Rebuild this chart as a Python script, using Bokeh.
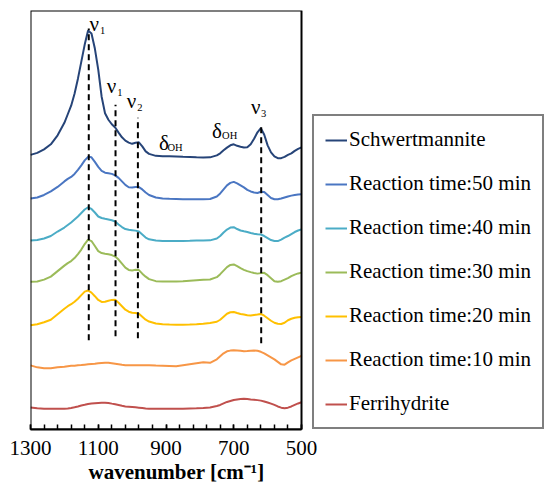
from bokeh.plotting import figure
from bokeh.models import Range1d, FixedTicker, Legend, LegendItem, ColumnDataSource, BoxAnnotation, Title
from bokeh.core.properties import value
from bokeh.embed import file_html
from bokeh.resources import INLINE

# wavenumber grid (cm-1)
wavenumber = [1300, 1280, 1260, 1240, 1220, 1200, 1190, 1180, 1170, 1160, 1150, 1140, 1130, 1120,
              1110, 1100, 1090, 1080, 1070, 1060, 1050, 1040, 1030, 1020, 1010, 1000, 990, 980,
              970, 960, 950, 930, 910, 890, 870, 850, 830, 810, 790, 770, 750, 740, 730, 720,
              710, 700, 690, 680, 670, 660, 650, 640, 630, 620, 610, 600, 590, 580, 570, 560,
              550, 540, 530, 520, 510, 500]

# stacked intensities (a.u.)
schwertmannite = [274, 276, 279.5, 284.5, 293.5, 306, 314.5, 323, 335, 350, 367, 384, 398, 395,
                  380, 359, 332, 315.5, 309, 304.5, 301.3, 296.2, 291.5, 288.2, 286.2, 285, 286, 286.5,
                  282.5, 277.5, 275, 273, 272.7, 272.5, 272.3, 272, 271.8, 271.5, 271.3, 271.5, 273.5, 275.5, 278.5, 281.2,
                  283.5, 284.5, 283, 282, 281.3, 281.5, 284.5, 290, 296.5, 300.7, 294, 283.5, 276.5, 272.5, 270.7, 270.7,
                  272, 274, 275.5, 278, 280, 281.5]
rt50 = [230.5, 231.5, 234, 237.5, 242, 247.5, 250, 252, 255, 259, 263.5, 268.5, 272, 271.5,
        267, 262, 258, 256.2, 255.7, 255, 253.5, 251, 247.5, 244, 241.7, 241.4, 242, 241.8,
        239.5, 236.5, 234, 231.5, 230.5, 230.2, 230, 229.8, 229.7, 229.7, 229.7, 230, 232.5, 235.5, 239.5, 243.5,
        246, 247, 245.5, 243.5, 241.5, 239, 237.5, 236.5, 236, 237.2, 237, 234, 231, 229.7, 229.7, 230.5,
        231.5, 232.5, 233.3, 234, 234.5, 234.7]
rt40 = [188.5, 189, 190.5, 193, 197.5, 201.5, 204, 206.5, 209.5, 212.5, 216, 219.5, 221.7, 220,
        216.5, 212.5, 211, 210.2, 209.5, 208.7, 207.5, 204.5, 202, 200, 199.2, 198.8, 198.4, 197.5,
        194.5, 191.5, 189.7, 188.5, 188, 188, 188, 188, 188.2, 188.5, 188.5, 188.7, 190.5, 193, 196.5, 199.5,
        201.5, 201.8, 200, 198.5, 197.7, 197, 196, 195.2, 194.7, 194.5, 193, 191, 189, 188, 188, 189.5,
        191.5, 193, 195, 197, 198.5, 199.7]
rt30 = [147.3, 147.7, 149.5, 152.5, 158, 163.5, 166, 168, 171, 175, 179.5, 185, 189.5, 188,
        183, 178, 176, 175.3, 174.8, 174, 172.5, 169.5, 165.5, 161.5, 159.2, 158.7, 159.3, 159,
        155.5, 152.5, 150, 148, 147.7, 147.7, 147.7, 148, 148.5, 149, 149.5, 149.7, 152, 155, 158.5, 162,
        164.2, 164.7, 163, 161, 159.3, 158, 157, 156.2, 155.5, 156, 156.3, 154, 151, 148, 147.3, 148,
        149.5, 151, 153, 154.5, 155.7, 156.5]
rt20 = [104, 105, 107, 109.5, 115, 120.5, 123, 125, 127.5, 130.5, 134, 137.5, 138.7, 136.5,
        133, 129.2, 127.3, 127.5, 128.5, 129.3, 129.5, 126.5, 123, 119.5, 117.5, 116.5, 116.2, 115.5,
        112.5, 109.5, 107.7, 105.7, 105, 104.7, 104.5, 104.5, 104.7, 105, 105.5, 106.3, 107.5, 109.5, 112.5, 115.5,
        117, 117.2, 116.2, 115.3, 114.7, 114, 113.7, 114.2, 114.7, 115.3, 113.5, 111, 108.5, 106.5, 105.5, 105.3,
        106.5, 109, 110.5, 111.5, 112, 112.3]
rt10 = [64, 62, 61, 61, 62, 62.5, 63, 63.5, 63.5, 64, 64.3, 64.7, 65, 65.3,
        65.5, 66, 66.4, 66.6, 66.5, 66, 65.5, 65, 64.5, 64.2, 64, 64, 64, 64,
        64, 64, 64, 63.8, 63.7, 63.4, 63, 64, 65, 66, 67, 66.5, 70, 73, 76, 78,
        78.7, 79, 78.8, 78.5, 78, 78.2, 78.6, 78.7, 78.5, 77.5, 76, 74, 72, 70, 67.5, 65,
        64.7, 67, 69, 70.5, 72, 73.5]
ferrihydrite = [22, 21.3, 20.8, 20.7, 20.7, 20.8, 21, 21.5, 22.2, 23, 24, 24.7, 25.5, 26,
                26.3, 26.5, 26.7, 26.7, 26.5, 25.8, 25.2, 24.5, 23.7, 23, 22.7, 22.4, 22.1, 21.8,
                21.4, 21, 20.7, 20.7, 20.7, 20.7, 20.7, 20.8, 21, 21.2, 21.5, 22, 23.5, 24.5, 26, 27.5,
                28.5, 29.5, 30, 30.5, 30.7, 30.5, 30, 29.7, 29.3, 28.8, 28, 27, 25.8, 24.5, 23, 21.8,
                21.3, 21.8, 23, 24.5, 26, 27.2]

series_names = ["Schwertmannite", "Reaction time:50 min", "Reaction time:40 min",
                "Reaction time:30 min", "Reaction time:20 min", "Reaction time:10 min", "Ferrihydrite"]
series_values = [schwertmannite, rt50, rt40, rt30, rt20, rt10, ferrihydrite]
series_colors = ["#264478", "#4A76C2", "#4BACC6", "#9BBB59", "#FFC000", "#F79646", "#C0504D"]

# band markers
band_wn = [1128, 1049, 983, 619]
band_top = [400, 324, 311, 305]
band_bottom = [89, 93, 91, 86]

# band labels (anchor = bottom of text box)
label_symbol = ["ν", "ν", "ν", "δ", "δ", "ν"]
label_sub = ["1", "1", "2", "OH", "OH", "3"]
label_wn = [1126, 1075, 1016, 921, 764, 649]
label_y = [393, 331, 316, 274, 286, 309.5]
label_sub_offset = [10.5, 10.5, 10.5, 8.5, 10, 10]

x_ticks = [1300, 1100, 900, 700, 500]
x_minor = list(range(1300, 499, -40))
wn_max, wn_min = 1300, 500
x_title = "wavenumber [cm⁻¹]"

FONT = "Liberation Serif"

# plotting area spans the full width; the spectra box is 1300..500 and the
# legend sits to its right inside the same canvas
p = figure(width=544, height=483, output_backend="svg", toolbar_location=None,
           x_range=Range1d(1300, -217.3), y_range=Range1d(0, 418),
           min_border_left=30, min_border_right=0, min_border_top=10, min_border_bottom=0)
p.background_fill_color = "white"
p.border_fill_color = "white"
p.grid.visible = False
p.yaxis.visible = False
p.outline_line_color = None

box = BoxAnnotation(left=wn_min, right=wn_max, bottom=0, top=418, fill_alpha=0,
                    line_color="black", line_alpha=1, line_width=2)
p.add_layout(box)

ax = p.xaxis[0]
ax.bounds = (wn_min, wn_max)
ax.ticker = FixedTicker(ticks=x_ticks, minor_ticks=x_minor)
ax.axis_line_color = "black"
ax.axis_line_width = 2
ax.major_tick_in = 5
ax.major_tick_out = 0
ax.minor_tick_in = 5
ax.minor_tick_out = 0
ax.major_tick_line_width = 1.5
ax.minor_tick_line_width = 1.5
ax.major_tick_line_color = "black"
ax.minor_tick_line_color = "black"
ax.major_label_text_font = FONT
ax.major_label_text_font_size = "21px"
ax.major_label_text_color = "black"
ax.major_label_standoff = 11

title = Title(text=x_title, align="left", offset=58, standoff=0,
              text_font=FONT, text_font_size="21px", text_font_style="bold", text_color="black")
p.add_layout(title, "below")

renderers = []
for name, vals, col in zip(series_names, series_values, series_colors):
    r = p.line(wavenumber, vals, line_color=col, line_width=2)
    renderers.append((name, r))

p.segment(x0=band_wn, y0=band_bottom, x1=band_wn, y1=band_top,
          line_color="black", line_width=2, line_dash="6 4")

src = ColumnDataSource(dict(x=label_wn, y=label_y, s=label_symbol, sub=label_sub, off=label_sub_offset))
p.text(x="x", y="y", text="s", source=src, text_font=value(FONT), text_font_size="21px",
       text_align="left", text_baseline="bottom", text_color="black")
p.text(x="x", y="y", text="sub", source=src, x_offset="off", y_offset=-2, text_font=value(FONT),
       text_font_size="10.5px", text_align="left", text_baseline="bottom", text_color="black")

legend = Legend(items=[LegendItem(label=n, renderers=[r]) for n, r in renderers],
                location=(282, 0))
legend.label_text_font = FONT
legend.label_text_font_size = "21px"
legend.label_text_color = "black"
legend.glyph_width = 22
legend.glyph_height = 24
legend.label_height = 24
legend.label_standoff = 2
legend.spacing = 19
legend.padding = 11
legend.margin = 0
legend.border_line_color = "black"
legend.border_line_width = 2
legend.background_fill_color = "white"
legend.background_fill_alpha = 1
p.add_layout(legend, "center")

open("out.html", "w").write(file_html(p, INLINE))
